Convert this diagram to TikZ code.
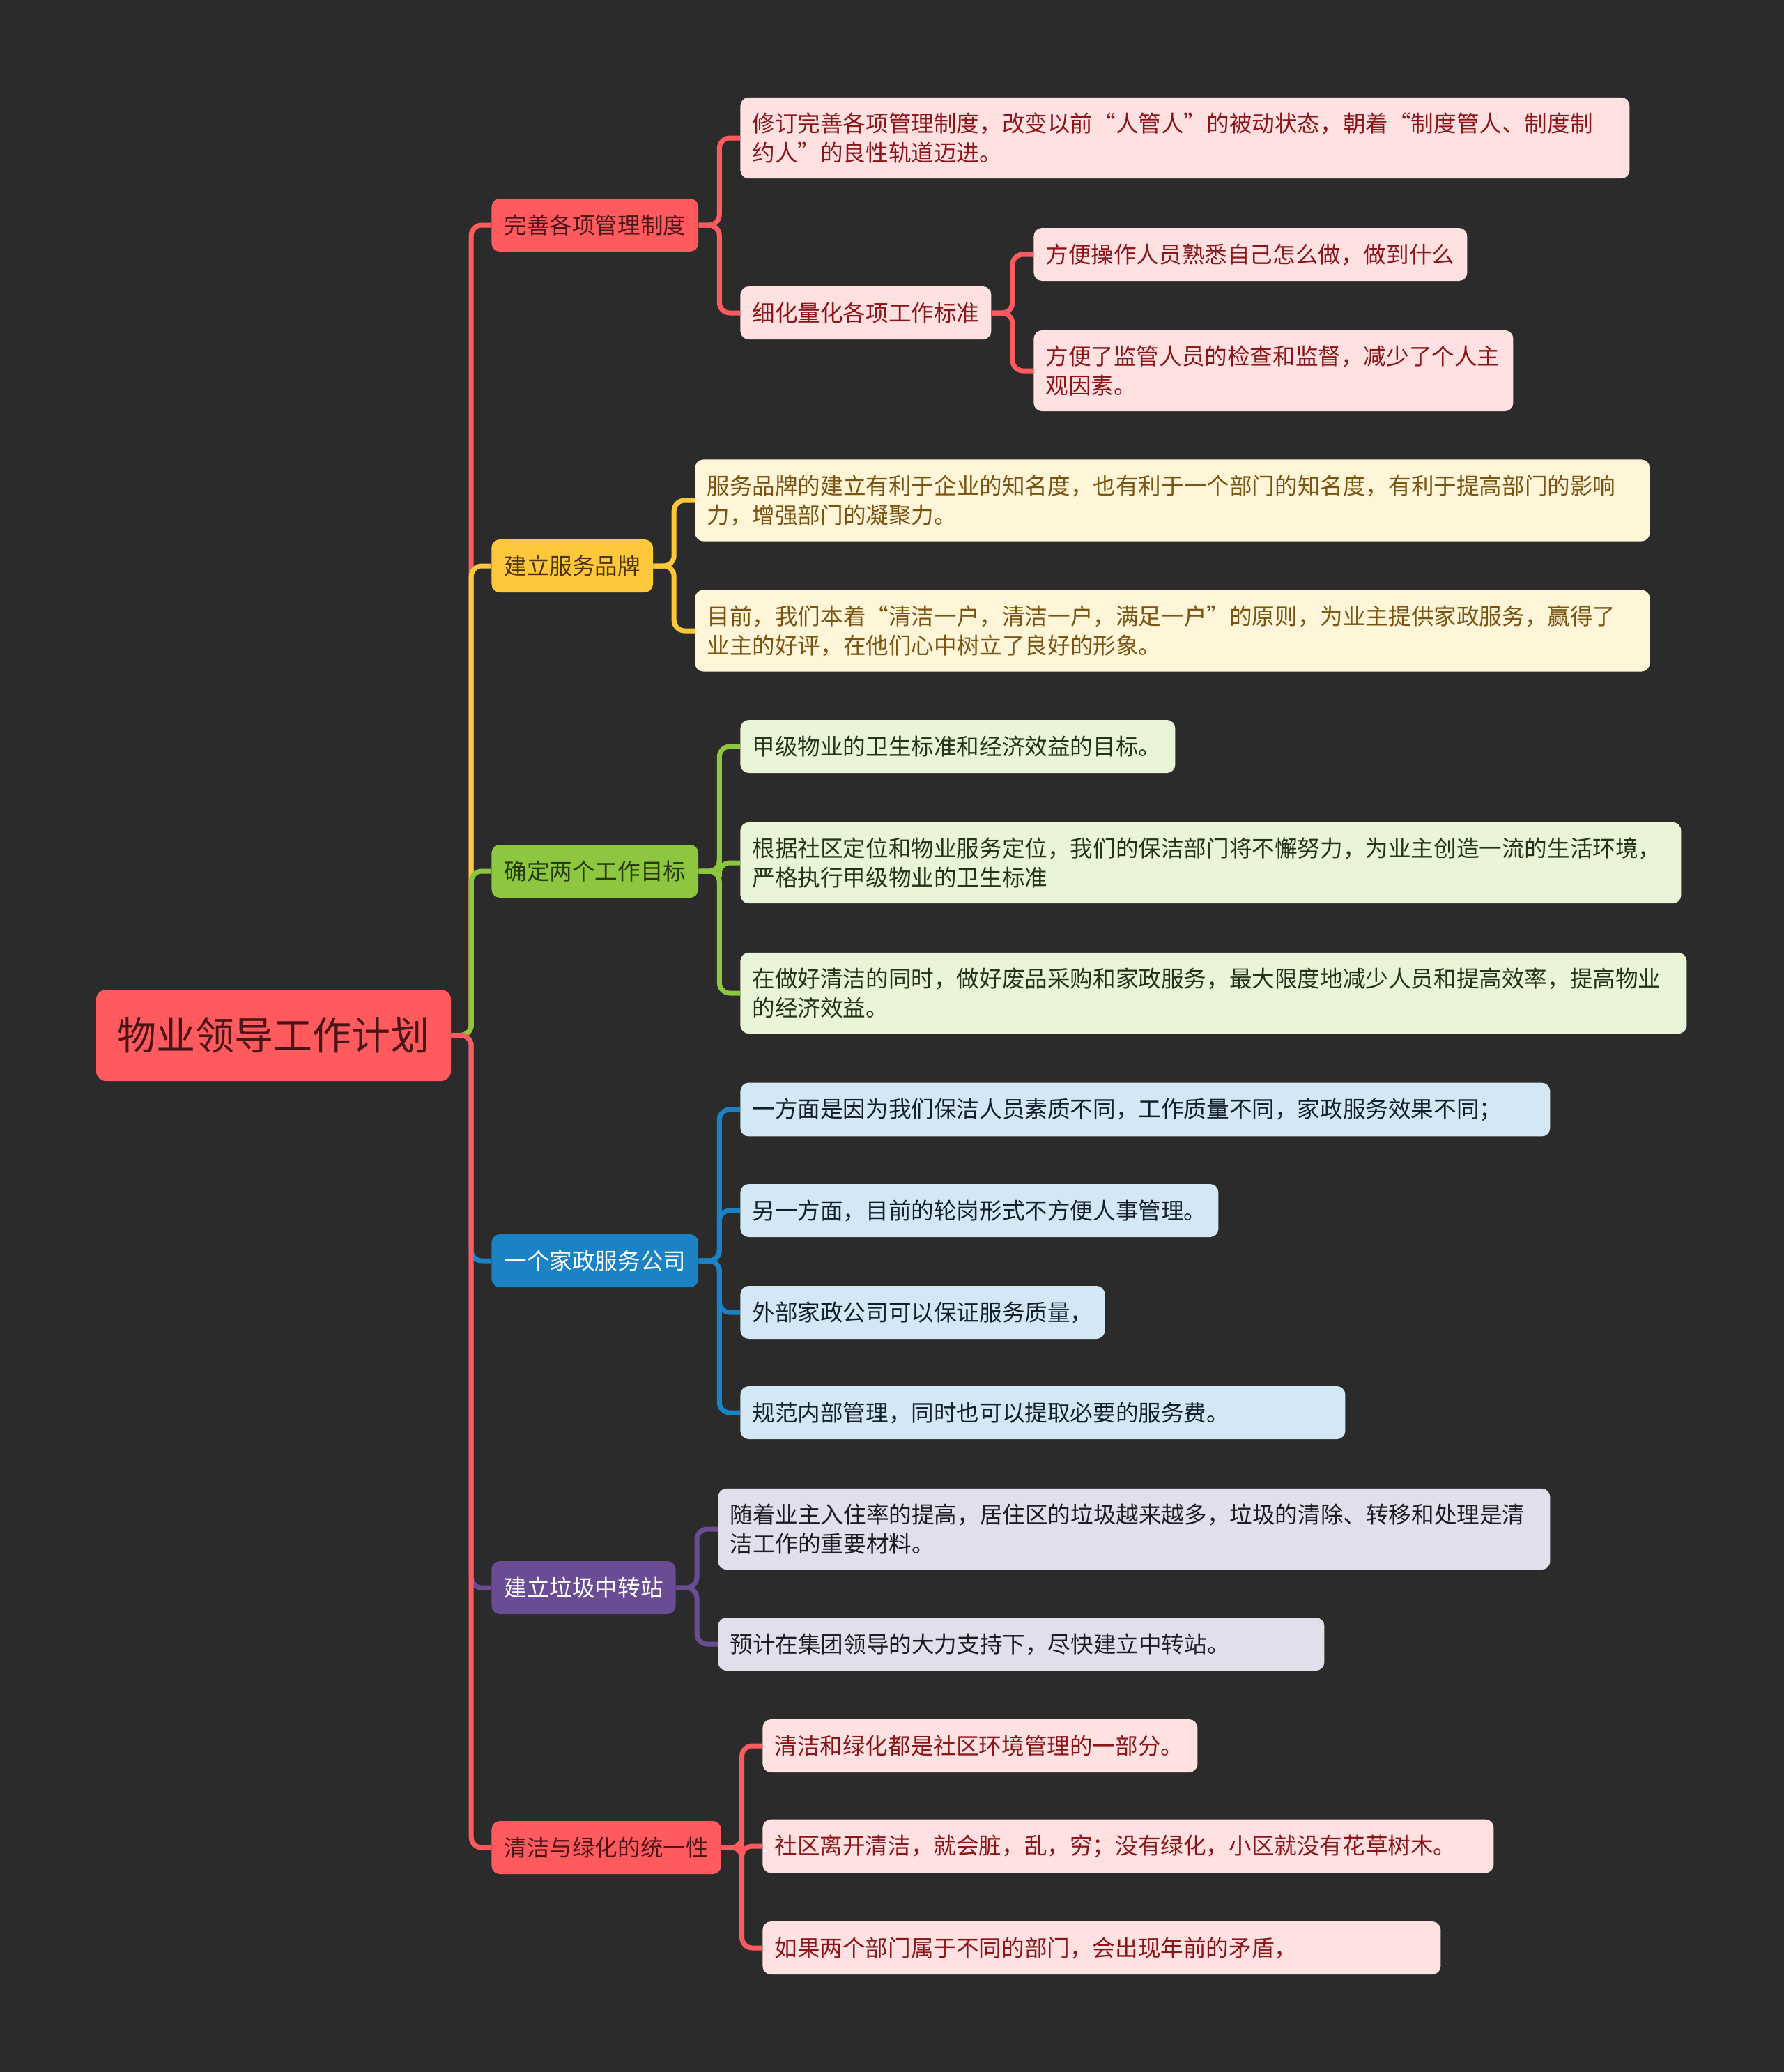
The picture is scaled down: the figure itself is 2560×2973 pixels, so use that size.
\documentclass[tikz,border=0pt]{standalone}
\usepackage{fontspec}
\setmainfont{Noto Sans CJK SC}
\usetikzlibrary{calc}

\definecolor{bg}{HTML}{2B2B2B}
\definecolor{redmain}{HTML}{FF5B5F}
\definecolor{yellowmain}{HTML}{FFC83C}
\definecolor{greenmain}{HTML}{8DC63F}
\definecolor{bluemain}{HTML}{1B82C5}
\definecolor{purplemain}{HTML}{694C93}
\definecolor{redleaf}{HTML}{FFE1E2}
\definecolor{yellowleaf}{HTML}{FFF6DA}
\definecolor{greenleaf}{HTML}{EAF4D7}
\definecolor{blueleaf}{HTML}{D3E7F4}
\definecolor{purpleleaf}{HTML}{E2DEEB}
\definecolor{redtext}{HTML}{8B1518}
\definecolor{yellowtext}{HTML}{7A5410}
\definecolor{greentext}{HTML}{24331A}
\definecolor{bluetext}{HTML}{13202B}
\definecolor{purpletext}{HTML}{1E1B24}
\definecolor{darkred}{HTML}{4B1518}
\definecolor{darkyellow}{HTML}{4A3508}
\definecolor{darkgreen}{HTML}{263A0B}

\begin{document}
\begin{tikzpicture}[x=0.5pt, y=-0.5pt,
	every node/.style={font=\fontsize{16.3}{21}\selectfont},
	box/.style={rounded corners=6pt, inner xsep=8.5pt, inner ysep=11pt, minimum height=38pt, anchor=west, align=left},
	branch/.style={box, inner xsep=9pt},
	leaf/.style={box},
	link/.style={line width=3.5pt, rounded corners=7.5pt, to path={-| ($(\tikztostart)!0.5!(\tikztotarget)$) |- (\tikztotarget)}}]
	\fill[bg] (0,0) rectangle (2560,2973);
	\node[rounded corners=7pt, fill=redmain, text=darkred, minimum width=254.5pt, minimum height=65.5pt, font=\fontsize{28}{34}\selectfont] (root) at (392.5,1485.5) {物业领导工作计划};
	% branch 1
	\node[branch, fill=redmain, text=darkred] (b1) at (705,323) {完善各项管理制度};
	\node[leaf, fill=redleaf, text=redtext, text width=621pt] (l1a) at (1062,198) {修订完善各项管理制度，改变以前“人管人”的被动状态，朝着“制度管人、制度制\\约人”的良性轨道迈进。};
	\node[leaf, fill=redleaf, text=redtext, text width=163pt] (l1b) at (1062,449) {细化量化各项工作标准};
	\node[leaf, fill=redleaf, text=redtext, text width=294pt] (l1b1) at (1483,365) {方便操作人员熟悉自己怎么做，做到什么};
	\node[leaf, fill=redleaf, text=redtext, text width=327pt] (l1b2) at (1483,532) {方便了监管人员的检查和监督，减少了个人主\\观因素。};
	% branch 2
	\node[branch, fill=yellowmain, text=darkyellow] (b2) at (705,812) {建立服务品牌};
	\node[leaf, fill=yellowleaf, text=yellowtext, text width=668pt] (l2a) at (997,718) {服务品牌的建立有利于企业的知名度，也有利于一个部门的知名度，有利于提高部门的影响\\力，增强部门的凝聚力。};
	\node[leaf, fill=yellowleaf, text=yellowtext, text width=668pt] (l2b) at (997,905) {目前，我们本着“清洁一户，清洁一户，满足一户”的原则，为业主提供家政服务，赢得了\\业主的好评，在他们心中树立了良好的形象。};
	% branch 3
	\node[branch, fill=greenmain, text=darkgreen] (b3) at (705,1250) {确定两个工作目标};
	\node[leaf, fill=greenleaf, text=greentext, text width=295pt] (l3a) at (1062,1071) {甲级物业的卫生标准和经济效益的目标。};
	\node[leaf, fill=greenleaf, text=greentext, text width=658pt] (l3b) at (1062,1238) {根据社区定位和物业服务定位，我们的保洁部门将不懈努力，为业主创造一流的生活环境，\\严格执行甲级物业的卫生标准};
	\node[leaf, fill=greenleaf, text=greentext, text width=662pt] (l3c) at (1062,1425) {在做好清洁的同时，做好废品采购和家政服务，最大限度地减少人员和提高效率，提高物业\\的经济效益。};
	% branch 4
	\node[branch, fill=bluemain, text=white] (b4) at (705,1809) {一个家政服务公司};
	\node[leaf, fill=blueleaf, text=bluetext, text width=564pt] (l4a) at (1062,1592) {一方面是因为我们保洁人员素质不同，工作质量不同，家政服务效果不同；};
	\node[leaf, fill=blueleaf, text=bluetext, text width=326pt] (l4b) at (1062,1737) {另一方面，目前的轮岗形式不方便人事管理。};
	\node[leaf, fill=blueleaf, text=bluetext, text width=244.5pt] (l4c) at (1062,1883) {外部家政公司可以保证服务质量，};
	\node[leaf, fill=blueleaf, text=bluetext, text width=417pt] (l4d) at (1062,2027) {规范内部管理，同时也可以提取必要的服务费。};
	% branch 5
	\node[branch, fill=purplemain, text=white] (b5) at (705,2278) {建立垃圾中转站};
	\node[leaf, fill=purpleleaf, text=purpletext, text width=580pt] (l5a) at (1030,2194) {随着业主入住率的提高，居住区的垃圾越来越多，垃圾的清除、转移和处理是清\\洁工作的重要材料。};
	\node[leaf, fill=purpleleaf, text=purpletext, text width=418pt] (l5b) at (1030,2359) {预计在集团领导的大力支持下，尽快建立中转站。};
	% branch 6
	\node[branch, fill=redmain, text=darkred] (b6) at (705,2651) {清洁与绿化的统一性};
	\node[leaf, fill=redleaf, text=redtext, text width=295pt] (l6a) at (1094,2505) {清洁和绿化都是社区环境管理的一部分。};
	\node[leaf, fill=redleaf, text=redtext, text width=507.5pt] (l6b) at (1094,2649) {社区离开清洁，就会脏，乱，穷；没有绿化，小区就没有花草树木。};
	\node[leaf, fill=redleaf, text=redtext, text width=469.5pt] (l6c) at (1094,2795) {如果两个部门属于不同的部门，会出现年前的矛盾，};
	% connectors
	\foreach \b/\c in {b1/redmain, b2/yellowmain, b3/greenmain, b4/bluemain, b5/purplemain, b6/redmain}
		\draw[link, color=\c] (root.east) to (\b.west);
	\foreach \b/\c/\kids in {b1/redmain/{l1a,l1b}, b2/yellowmain/{l2a,l2b}, b3/greenmain/{l3a,l3b,l3c}, b4/bluemain/{l4a,l4b,l4c,l4d}, b5/purplemain/{l5a,l5b}, b6/redmain/{l6a,l6b,l6c}}
		\foreach \l in \kids
			\draw[link, color=\c] (\b.east) to (\l.west);
	\foreach \l in {l1b1,l1b2}
		\draw[link, color=redmain] (l1b.east) to (\l.west);
\end{tikzpicture}
\end{document}
